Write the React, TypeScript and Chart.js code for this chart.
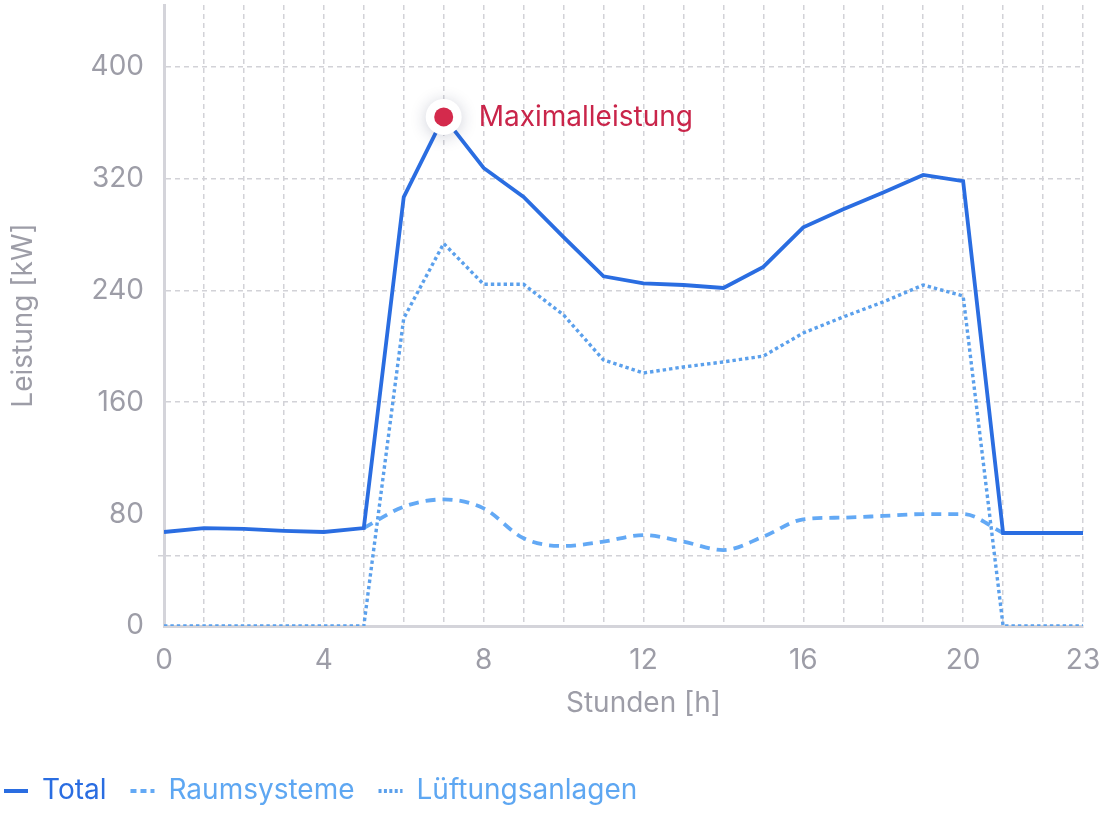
import React, { useEffect, useRef } from "react";
import { Chart, registerables } from "chart.js";

Chart.register(...registerables);

// ---- data ----
const hours = [0, 1, 2, 3, 4, 5, 6, 7, 8, 9, 10, 11, 12, 13, 14, 15, 16, 17, 18, 19, 20, 21, 22, 23];
const totalKW = [67.2, 70, 69.4, 68, 67.2, 70, 306.7, 364, 327.5, 306.7, 278, 250, 245, 243.8, 241.7, 256.7, 285, 298, 310, 322.5, 318, 66.5, 66.5, 66.5];
const raumKW = [null, null, null, null, null, 70, 85.3, 90.5, 84.1, 62.7, 57.2, 60.3, 65, 60.3, 54.3, 63.9, 76.3, 77.5, 78.7, 80, 80, 66.5, null, null];
const lueftungKW = [0, 0, 0, 0, 0, 0, 220, 273.5, 244.3, 244.3, 222.4, 190.2, 180.9, 185.2, 188.8, 193, 209.5, 221, 231.7, 243.8, 236, 0, 0, 0];
const xLabelHours = [0, 4, 8, 12, 16, 20, 23];
const yLabelTicks = [0, 80, 160, 240, 320, 400];
const yExtraGrid = [50];
const yMax = 444;
const seriesNames = ["Total", "Raumsysteme", "Lüftungsanlagen"];
const peakLabel = "Maximalleistung";
const xTitle = "Stunden [h]";
const yTitle = "Leistung [kW]";

export default function App() {
  const ref = useRef<HTMLCanvasElement>(null);

  useEffect(() => {
    document.body.style.margin = "0";
    document.body.style.overflow = "hidden";
    const canvas = ref.current;
    if (!canvas) return;

    const FONT = "Inter";
    const GREY = "#9d9da7";
    const GRID = "#d2d2d7";
    const AXIS = "#d4d4da";
    const lineColors = ["#2a6de1", "#63a9f5", "#5ba0ec"];
    const legendText = ["#2a6de1", "#5ea7f2", "#5ea7f2"];
    const legendDash = [[], [6, 4], [3, 2.4]];
    const RED = "#d42a4c";
    const font = { family: FONT, size: 28 };

    const pts = (vals: (number | null)[]) => hours.map((h, i) => ({ x: h, y: vals[i] }));
    const peakIdx = totalKW.indexOf(Math.max(...totalKW));
    const peakPoint = [{ x: hours[peakIdx], y: totalKW[peakIdx] }];

    const markerPlugin = {
      id: "peakMarker",
      beforeDatasetDraw(chart: any, args: any) {
        if (args.index === 3) {
          const c = chart.ctx;
          c.save();
          c.shadowColor = "rgba(30,40,80,0.22)";
          c.shadowBlur = 16;
          c.shadowOffsetY = 2;
        }
      },
      afterDatasetDraw(chart: any, args: any) {
        if (args.index === 3) chart.ctx.restore();
      },
      afterDatasetsDraw(chart: any) {
        const el = chart.getDatasetMeta(4).data[0];
        const c = chart.ctx;
        c.save();
        c.font = `28px ${FONT}`;
        if (el) {
          c.fillStyle = "#c9254a";
          c.textAlign = "left";
          c.textBaseline = "middle";
          c.fillText(peakLabel, el.x + 35, el.y + 1);
        }
        // x-axis title
        const xs = chart.scales.x;
        c.fillStyle = GREY;
        c.textAlign = "center";
        c.textBaseline = "middle";
        c.fillText(xTitle, (xs.left + xs.right) / 2 + 20, xs.top + 78);
        c.restore();
      },
    };

    const chart = new Chart(canvas, {
      type: "line",
      data: {
        datasets: [
          {
            label: seriesNames[0],
            data: pts(totalKW),
            borderColor: lineColors[0],
            backgroundColor: lineColors[0],
            borderWidth: 3.8,
            pointRadius: 0,
            tension: 0,
            order: 0,
          },
          {
            label: seriesNames[1],
            data: pts(raumKW),
            borderColor: lineColors[1],
            backgroundColor: lineColors[1],
            borderWidth: 3.8,
            borderDash: [10, 7],
            pointRadius: 0,
            cubicInterpolationMode: "monotone",
            order: 0,
          },
          {
            label: seriesNames[2],
            data: pts(lueftungKW),
            borderColor: lineColors[2],
            backgroundColor: lineColors[2],
            borderWidth: 3.4,
            borderDash: [3.4, 3],
            pointRadius: 0,
            tension: 0,
            order: 0,
          },
          {
            label: "halo",
            data: peakPoint,
            showLine: false,
            pointRadius: 18,
            pointBackgroundColor: "#ffffff",
            pointBorderWidth: 0,
            clip: false,
            order: -1,
          },
          {
            label: "dot",
            data: peakPoint,
            showLine: false,
            pointRadius: 9.5,
            pointBackgroundColor: RED,
            pointBorderWidth: 0,
            clip: false,
            order: -2,
          },
        ] as any,
      },
      options: {
        animation: false,
        responsive: false,
        events: [],
        layout: { autoPadding: false, padding: { left: -20, right: 37, top: 5, bottom: -1 } },
        plugins: {
          tooltip: { enabled: false },
          legend: {
            position: "bottom",
            align: "start",
            labels: {
              usePointStyle: true,
              pointStyle: "line",
              pointStyleWidth: 24,
              padding: 24,
              font,
              filter: (item: any) => item.datasetIndex < 3,
              generateLabels: (ch: any) => {
                const items = (Chart.defaults.plugins.legend.labels as any).generateLabels(ch);
                return items.map((it: any) => ({
                  ...it,
                  fontColor: legendText[it.datasetIndex] ?? GREY,
                  strokeStyle: lineColors[it.datasetIndex] ?? GREY,
                  lineDash: legendDash[it.datasetIndex] ?? [],
                  lineWidth: 4,
                  lineCap: "butt",
                  pointStyle: "line",
                }));
              },
            },
          },
        },
        scales: {
          x: {
            type: "linear",
            min: hours[0],
            max: hours[hours.length - 1],
            afterBuildTicks: (s: any) => {
              s.ticks = hours.map((h) => ({ value: h }));
            },
            grid: { color: GRID, lineWidth: 1.5, drawTicks: false },
            border: { display: true, color: AXIS, width: 3, dash: [5, 4] },
            ticks: {
              autoSkip: false,
              maxRotation: 0,
              padding: 18,
              color: GREY,
              font,
              callback: (v: any) => (xLabelHours.includes(Number(v)) ? String(v) : ""),
            },
            title: { display: false },
            afterFit: (s: any) => {
              s.height = 127;
            },
          },
          y: {
            type: "linear",
            min: 0,
            max: yMax,
            afterBuildTicks: (s: any) => {
              s.ticks = [...yLabelTicks, ...yExtraGrid].sort((a, b) => a - b).map((v) => ({ value: v }));
            },
            grid: {
              color: (c: any) => (c.tick && c.tick.value === 80 ? "rgba(0,0,0,0)" : GRID),
              lineWidth: 1.5,
              drawTicks: true,
              tickLength: 6,
              tickColor: (c: any) => (c.tick && yExtraGrid.includes(c.tick.value) ? GRID : "rgba(0,0,0,0)"),
              tickWidth: 1.5,
              tickBorderDash: [5, 4],
            },
            border: { display: true, color: AXIS, width: 3, dash: [5, 4] },
            ticks: {
              autoSkip: false,
              padding: 14,
              color: GREY,
              font: { family: FONT, size: 28, lineHeight: 0.36 },
              callback: (v: any) => (yLabelTicks.includes(Number(v)) ? String(v) : ""),
            },
            title: { display: true, text: yTitle, color: GREY, font, padding: { top: 27, bottom: 0 } },
            afterFit: (s: any) => {
              s.width = 184;
              s.paddingTop = 0;
            },
          },
        },
      } as any,
      plugins: [markerPlugin],
    });

    return () => chart.destroy();
  }, []);

  return (
    <div style={{ width: 1120, height: 814 }}>
      <canvas ref={ref} width={1120} height={814} style={{ display: "block", width: 1120, height: 814 }} />
    </div>
  );
}
